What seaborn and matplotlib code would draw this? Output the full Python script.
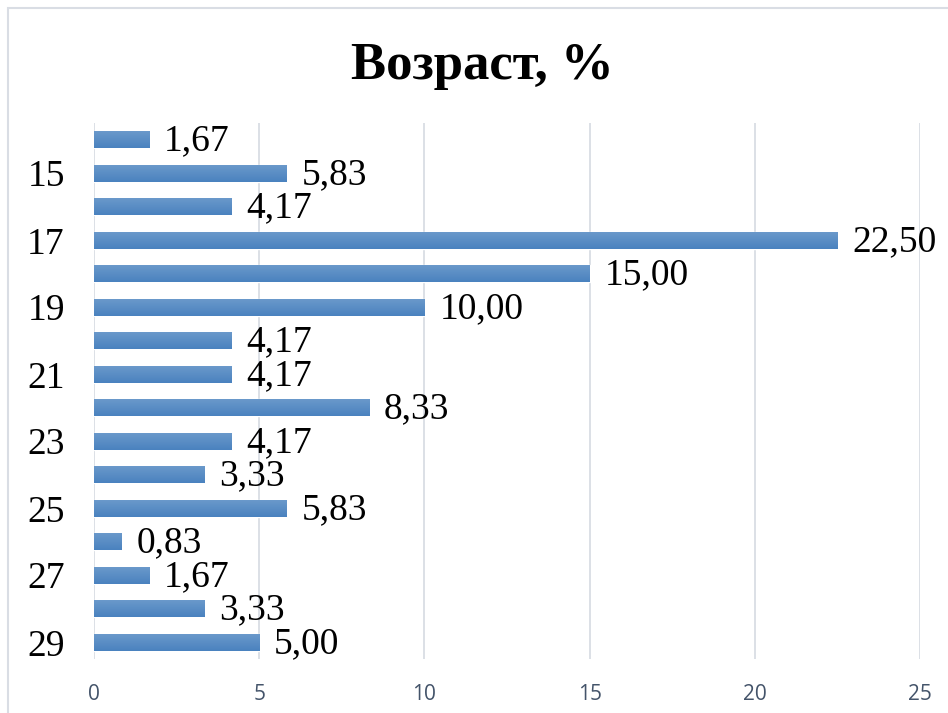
import numpy as np
import pandas as pd
import seaborn as sns
import matplotlib.pyplot as plt
from matplotlib.patches import Rectangle

ages = ['14', '15', '16', '17', '18', '19', '20', '21', '22', '23', '24', '25', '26', '27', '28', '29']
shares = [1.67, 5.83, 4.17, 22.50, 15.00, 10.00, 4.17, 4.17, 8.33, 4.17, 3.33, 5.83, 0.83, 1.67, 3.33, 5.00]
shown_ages = ['15', '17', '19', '21', '23', '25', '27', '29']
x_ticks = [0, 5, 10, 15, 20, 25]

df = pd.DataFrame({'age': ages, 'share': shares})

sns.set_style('white')
fig = plt.figure(figsize=(9.48, 7.13), dpi=100)
ax = fig.add_axes([94 / 948, 1 - 659 / 713, (920 - 94) / 948, (659 - 123) / 713])

sns.barplot(data=df, x='share', y='age', order=ages, color='#5a8cc6',
            width=0.52, saturation=1, ax=ax)

# soft vertical gradient on each bar, like the office chart
grad = np.linspace(0, 1, 50).reshape(-1, 1)
cmap = sns.blend_palette(['#6c9acb', '#4a82bf'], as_cmap=True)
for p in ax.patches:
    x0, y0 = p.get_x(), p.get_y()
    w, h = p.get_width(), p.get_height()
    im = ax.imshow(grad, cmap=cmap, aspect='auto', extent=[x0, x0 + w, y0 + h, y0],
                   zorder=p.get_zorder() + 0.1)
    im.set_clip_path(p)

for i, v in enumerate(shares):
    ax.text(v + 0.45, i + 0.05, f'{v:.2f}'.replace('.', ','), va='center', ha='left',
            fontsize=27, family='Liberation Serif', color='black')

ax.set_xlim(0, 25)
ax.set_ylim(len(ages) - 0.5, -0.5)
ax.set_xticks(x_ticks)
ax.set_xticklabels([str(t) for t in x_ticks], fontsize=15, family='Open Sans', color='#44546a')
ax.set_yticks(range(len(ages)))
ax.set_yticklabels([a if a in shown_ages else '' for a in ages], fontsize=27,
                   family='Liberation Serif', color='black')
ax.tick_params(axis='both', length=0)
ax.tick_params(axis='y', pad=21)
ax.tick_params(axis='x', pad=18)
ax.set_xlabel('')
ax.set_ylabel('')
ax.grid(axis='x', color='#d9dde4', linewidth=1.3)
ax.set_axisbelow(True)
for s in ax.spines.values():
    s.set_visible(False)

fig.text(482 / 948, 1 - 66 / 713, 'Возраст, %', ha='center', va='center', fontsize=38,
         fontweight='bold', family='Liberation Serif', color='black')

fig.patches.append(Rectangle((8 / 948, -0.1), 1.2, 1 - 8 / 713 + 0.1, transform=fig.transFigure,
                             fill=False, edgecolor='#d9dde4', linewidth=1.5))

fig.savefig('out.png', dpi=100)
